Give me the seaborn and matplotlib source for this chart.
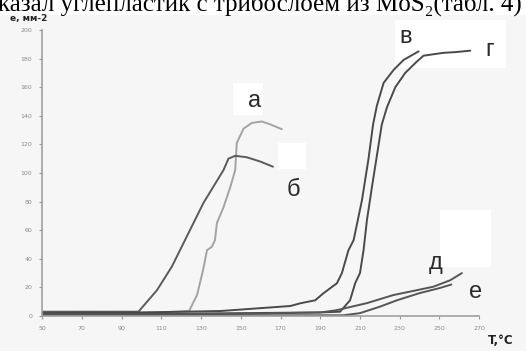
import matplotlib
matplotlib.use("Agg")
import matplotlib.pyplot as plt
import seaborn as sns
import pandas as pd
from matplotlib.patches import Rectangle

# ---- data ----
a_T = [50, 80, 110, 124, 128, 131, 133, 135.5, 137, 138, 141.3, 144.7, 147.2, 148, 151.4, 155.6, 160.6, 164.8, 170.7]
a_e = [2, 2, 2.5, 3.5, 14.7, 32, 46, 48.5, 53, 65, 76, 90, 102, 121, 131, 135, 136, 134, 130.6]

b_T = [50, 80, 98.5, 107.8, 115.3, 131.2, 141.3, 143.8, 147.2, 153, 159.8, 166.2]
b_e = [3, 3, 3, 18, 34.5, 79, 102, 110, 112, 111, 108, 104.4]

v_T = [50, 100, 140, 160, 175, 180, 187.5, 191.6, 198.4, 200.9, 204.2, 206.8, 211, 214.3, 216.6, 218.5, 221.9, 226.9, 231.9, 239.5]
v_e = [2, 2.5, 3.5, 5.5, 7, 8.9, 11, 15.9, 22.9, 30, 46, 53, 81, 110, 134, 147, 163, 172, 179, 185]

g_T = [50, 100, 150, 190, 200, 205, 207.6, 210, 211.8, 213.5, 216, 218.5, 221, 223.6, 227.8, 232.8, 238.7, 242, 252, 258, 265.5]
g_e = [1.5, 1.5, 2, 2.5, 3, 11, 23, 30, 46, 67, 90, 112, 134, 146, 160, 170, 178, 182, 184, 184.5, 185.5]

d_T = [50, 100, 150, 190, 198, 213.5, 226.9, 235, 247, 255.4, 261.3]
d_e = [1, 1, 1.5, 2.5, 4, 9, 14.7, 17, 20.5, 25, 30]

ye_T = [50, 100, 150, 190, 201.7, 210, 220, 228.6, 240, 250, 256]
ye_e = [0.5, 0.5, 0.5, 0.5, 0.5, 2, 6.5, 11, 16, 19.5, 22]

curve_names = ["а", "б", "в", "г", "д", "е"]
x_ticks = [50, 70, 90, 110, 130, 150, 170, 190, 210, 230, 250, 270]
y_ticks = [0, 20, 40, 60, 80, 100, 120, 140, 160, 180, 200]

sns.set_theme(style="white")
plt.rcParams["font.family"] = ["DejaVu Sans"]

fig = plt.figure(figsize=(5.26, 3.51), dpi=100)
fig.patch.set_facecolor("white")
fig.patches.append(Rectangle((0, 0), 1, 1 - 15 / 351, transform=fig.transFigure,
                             facecolor="#f6f6f6", edgecolor="none", zorder=-10))

ax = fig.add_axes([0.080, 0.0997, 0.831, 0.815])
ax.set_facecolor("none")

curves = [(a_T, a_e), (b_T, b_e), (v_T, v_e), (g_T, g_e), (d_T, d_e), (ye_T, ye_e)]
colors = ["#a3a3a3", "#5a5a5a", "#4a4a4a", "#4a4a4a", "#555555", "#555555"]
for (T, e), name, c in zip(curves, curve_names, colors):
    df = pd.DataFrame({"T": T, "e": e})
    sns.lineplot(data=df, x="T", y="e", ax=ax, color=c, lw=1.4, sort=False,
                 estimator=None, legend=False)

ax.set_xlim(50, 270)
ax.set_ylim(0, 200)
ax.set_xticks(x_ticks)
ax.set_yticks(y_ticks)
ax.tick_params(axis="both", labelsize=4.5, labelcolor="#8a8a8a", colors="#9a9a9a",
               length=2, width=0.8, direction="out", pad=5)
ax.tick_params(axis="x", bottom=True)
ax.tick_params(axis="y", left=True)
for s in ["top", "right"]:
    ax.spines[s].set_visible(False)
for s in ["left", "bottom"]:
    ax.spines[s].set_color("#a0a0a0")
    ax.spines[s].set_linewidth(1.2)
ax.set_xlabel("")
ax.set_ylabel("")

# white label boxes
for (x0, y0, w, h) in [(233, 83, 30, 32), (278, 143, 28, 26), (395, 20, 111, 48), (440, 210, 51, 57)]:
    fig.patches.append(Rectangle((x0 / 526, 1 - (y0 + h) / 351), w / 526, h / 351,
                                 transform=fig.transFigure, facecolor="white",
                                 edgecolor="none", zorder=-5))

label_pos = [(157, 150), (176.5, 88), (233, 195), (275.5, 186), (248, 37), (268, 17)]
for name, (lx, ly) in zip(curve_names, label_pos):
    ax.text(lx, ly, name, fontsize=17, color="#2b2b2b", ha="center", va="center",
            family="Liberation Sans", clip_on=False)

fig.text(10 / 526, 1 - 21 / 351, "e, мм-2", fontsize=6.5, fontweight="bold",
         color="#222222", ha="left", va="baseline")
fig.text(488 / 526, 1 - 344 / 351, "T,°C", fontsize=8.5, fontweight="bold",
         color="#222222", ha="left", va="baseline")

fig.text(-0.004, 1 - 11 / 351, "казал углепластик с трибослоем из MoS₂(табл. 4)",
         fontsize=18, family=["Liberation Serif", "DejaVu Serif"], color="black",
         ha="left", va="baseline")

fig.savefig("out.png", dpi=100)
